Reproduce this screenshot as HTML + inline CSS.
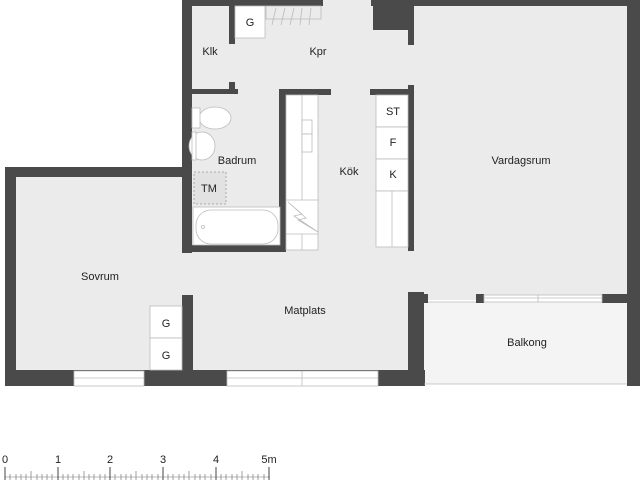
<!DOCTYPE html>
<html><head><style>
html,body{margin:0;padding:0;background:#fff;width:640px;height:480px;overflow:hidden}
svg text{font-family:"Liberation Sans",sans-serif;font-size:11px;fill:#222}
</style></head><body>
<svg width="640" height="480" viewBox="0 0 640 480" xmlns="http://www.w3.org/2000/svg">
<!-- floors -->
<rect x="15" y="177" width="395" height="195" fill="#ebebeb"/>
<rect x="182" y="0" width="450" height="300" fill="#ebebeb"/>
<rect x="424" y="302" width="204" height="82" fill="#f4f4f4"/>
<g fill="#4a4a4a">
<!-- top walls -->
<rect x="182" y="0" width="141" height="6"/>
<rect x="371" y="0" width="269" height="6"/>
<rect x="373" y="0" width="39" height="30"/>
<rect x="408" y="0" width="6" height="45"/>
<rect x="627" y="0" width="13" height="386"/>
<!-- left of klk/bath -->
<rect x="182" y="0" width="10" height="253"/>
<rect x="229" y="0" width="6" height="44"/>
<rect x="229" y="82" width="6" height="12"/>
<rect x="192" y="89" width="46" height="5"/>
<rect x="182" y="245" width="104" height="7"/>
<rect x="279" y="89" width="7" height="163"/>
<rect x="279" y="89" width="52" height="6"/>
<rect x="370" y="89" width="44" height="6"/>
<rect x="408" y="85" width="6" height="166"/>
<!-- sovrum -->
<rect x="5" y="167" width="187" height="10"/>
<rect x="5" y="167" width="11" height="219"/>
<rect x="5" y="370" width="420" height="16"/>
<rect x="182" y="295" width="11" height="80"/>
<rect x="408" y="292" width="16" height="94"/>
<rect x="408" y="294" width="20" height="9"/>
<rect x="476" y="294" width="8" height="9"/>
<rect x="602" y="294" width="26" height="9"/>
</g>
<!-- windows -->
<g fill="#fff" stroke="#bbb" stroke-width="0.8">
<rect x="74" y="371" width="70" height="15"/>
<line x1="74" y1="378" x2="144" y2="378"/>
<rect x="227" y="371" width="151" height="15"/>
<line x1="227" y1="378" x2="378" y2="378"/>
<line x1="302" y1="371" x2="302" y2="386"/>
<rect x="484" y="295" width="118" height="7"/>
<line x1="484" y1="298" x2="602" y2="298"/>
<line x1="538" y1="295" x2="538" y2="302"/>
<line x1="424" y1="384" x2="627" y2="384"/>
<line x1="428" y1="302" x2="476" y2="302"/>
</g>
<!-- cabinets -->
<g fill="#fff" stroke="#bbb" stroke-width="0.8">
<rect x="235" y="6" width="30" height="32"/>
<rect x="150" y="306" width="32" height="32"/>
<rect x="150" y="338" width="32" height="32"/>
<rect x="376" y="95" width="32" height="32"/>
<rect x="376" y="127" width="32" height="32"/>
<rect x="376" y="159" width="32" height="32"/>
<rect x="376" y="191" width="32" height="56"/>
<line x1="392" y1="191" x2="392" y2="247"/>
<rect x="286" y="95" width="32" height="155"/>
<line x1="302" y1="95" x2="302" y2="200"/>
<line x1="302" y1="234" x2="302" y2="250"/>
<line x1="286" y1="200" x2="318" y2="200"/>
<line x1="286" y1="234" x2="318" y2="234"/>
<rect x="302" y="120" width="10" height="14"/>
<rect x="302" y="134" width="10" height="18"/>
<polyline points="288,202 302,214 294,216 318,232 298,220 306,218 288,202" fill="none"/>
<!-- bathroom -->
<ellipse cx="215" cy="118" rx="16" ry="11"/>
<rect x="192" y="108" width="8" height="20"/>
<ellipse cx="202" cy="146" rx="13" ry="14"/>
<rect x="192" y="132" width="4" height="28"/>
<rect x="193" y="207" width="87" height="38" fill="#fff"/>
<rect x="196" y="210" width="82" height="34" rx="15" fill="#fff"/>
<circle cx="203" cy="227" r="1.5"/>
<rect x="194" y="172" width="32" height="32" fill="#e2e2e2" stroke="#999" stroke-dasharray="2,2"/>
<!-- rods -->
<rect x="266" y="6" width="55" height="13" fill="none"/>
<line x1="272" y1="25" x2="276" y2="8"/><line x1="281" y1="25" x2="285" y2="8"/>
<line x1="290" y1="25" x2="294" y2="8"/><line x1="300" y1="25" x2="302" y2="8"/>
<line x1="309" y1="25" x2="311" y2="8"/>
</g>
<!-- labels -->
<text x="250" y="26" text-anchor="middle">G</text>
<text x="210" y="55" text-anchor="middle">Klk</text>
<text x="318" y="55" text-anchor="middle">Kpr</text>
<text x="237" y="164" text-anchor="middle">Badrum</text>
<text x="209" y="192" text-anchor="middle">TM</text>
<text x="349" y="175" text-anchor="middle">Kök</text>
<text x="393" y="115" text-anchor="middle">ST</text>
<text x="393" y="146" text-anchor="middle">F</text>
<text x="393" y="178" text-anchor="middle">K</text>
<text x="521" y="164" text-anchor="middle">Vardagsrum</text>
<text x="100" y="280" text-anchor="middle">Sovrum</text>
<text x="305" y="314" text-anchor="middle">Matplats</text>
<text x="166" y="327" text-anchor="middle">G</text>
<text x="166" y="359" text-anchor="middle">G</text>
<text x="527" y="346" text-anchor="middle">Balkong</text>
<!-- scale -->
<g font-size="10">
<text x="5" y="463" text-anchor="middle">0</text>
<text x="58" y="463" text-anchor="middle">1</text>
<text x="110" y="463" text-anchor="middle">2</text>
<text x="163" y="463" text-anchor="middle">3</text>
<text x="216" y="463" text-anchor="middle">4</text>
<text x="269" y="463" text-anchor="middle">5m</text>
</g>
<g stroke="#444" stroke-width="1">
<line x1="5" y1="477" x2="270" y2="477" stroke="#bbb"/>
<line x1="5" y1="467" x2="5" y2="480"/><line x1="58" y1="467" x2="58" y2="480"/>
<line x1="110" y1="467" x2="110" y2="480"/><line x1="163" y1="467" x2="163" y2="480"/>
<line x1="216" y1="467" x2="216" y2="480"/><line x1="269" y1="467" x2="269" y2="480"/>
</g>
<g stroke="#777" stroke-width="0.7">
<path d="M10 474V480M16 474V480M21 474V480M26 474V480M31 471V480M37 474V480M42 474V480M47 474V480M52 474V480
M63 474V480M68 474V480M73 474V480M79 474V480M84 471V480M89 474V480M94 474V480M100 474V480M105 474V480
M115 474V480M121 474V480M126 474V480M131 474V480M136 471V480M142 474V480M147 474V480M152 474V480M158 474V480
M168 474V480M173 474V480M179 474V480M184 474V480M189 471V480M195 474V480M200 474V480M205 474V480M211 474V480
M221 474V480M226 474V480M232 474V480M237 474V480M242 471V480M248 474V480M253 474V480M258 474V480M264 474V480"/>
</g>
</svg>
</body></html>
